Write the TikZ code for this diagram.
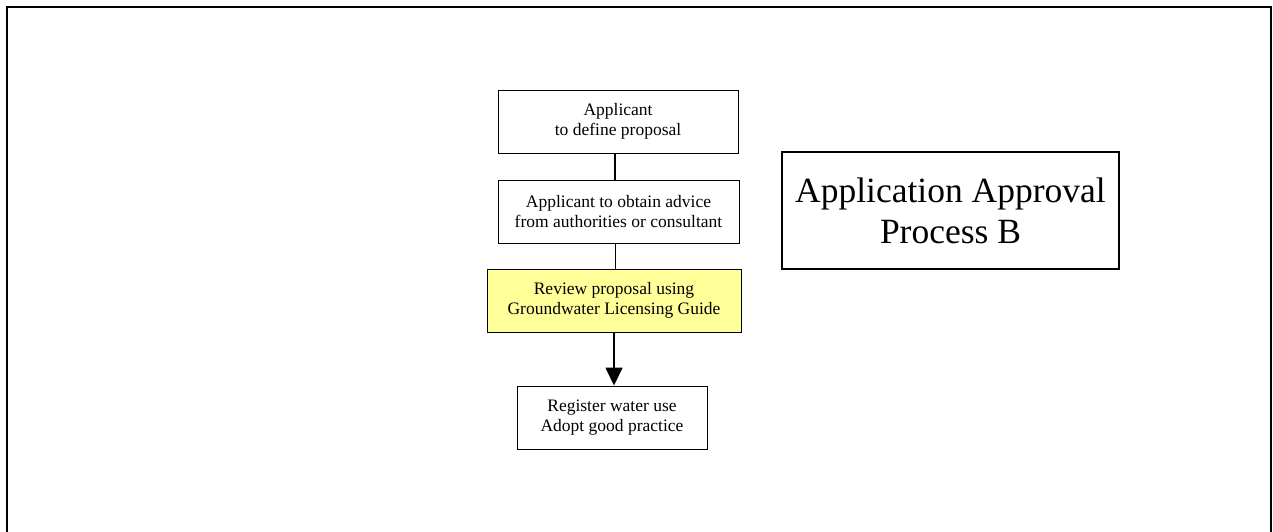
\documentclass[tikz,border=0pt]{standalone}
\usepackage{fontspec}
\setmainfont{Liberation Serif}
\usetikzlibrary{arrows.meta}
\definecolor{notefill}{HTML}{FFFF99}
\tikzset{
  px/.style={x=1pt,y=-1pt},
  stepbox/.style={draw=black, line width=1pt, fill=white, align=center,
    inner sep=0pt, minimum height=63pt,
    font=\fontsize{17.5pt}{20.5pt}\selectfont},
  titlebox/.style={draw=black, line width=2.5pt, fill=white, align=center,
    inner sep=0pt, minimum width=337pt, minimum height=117pt,
    font=\fontsize{35.5pt}{41pt}\selectfont},
  link/.style={line width=1.5pt},
  flow/.style={line width=1.8pt, -{Triangle[width=17pt,length=18pt]}}
}
\begin{document}
\begin{tikzpicture}[px]
  \useasboundingbox (0,0) rectangle (1273,531);
  % outer frame, its lower edge runs off the page
  \draw[line width=1.6pt] (7,545) -- (7,7) -- (1271,7) -- (1271,545);

  \node[stepbox, minimum width=240pt] (define) at (618,121.5)
    {Applicant\\to define proposal};
  \node[stepbox, minimum width=241pt] (advice) at (618.5,211.5)
    {Applicant to obtain advice\\from authorities or consultant};
  \node[stepbox, minimum width=254pt, fill=notefill] (review) at (614,300.5)
    {Review proposal using\\Groundwater Licensing Guide};
  \node[stepbox, minimum width=190pt] (register) at (612,417.5)
    {Register water use\\Adopt good practice};

  \node[titlebox] (title) at (950.5,210.5)
    {Application Approval\\Process B};

  \draw[link] ([xshift=-3pt]define.south) -- ([xshift=-3pt]define.south |- advice.north);
  \draw[link] ([xshift=-3pt]advice.south) -- ([xshift=-3pt]advice.south |- review.north);
  \draw[flow] (review.south) -- (review.south |- register.north);
\end{tikzpicture}
\end{document}
